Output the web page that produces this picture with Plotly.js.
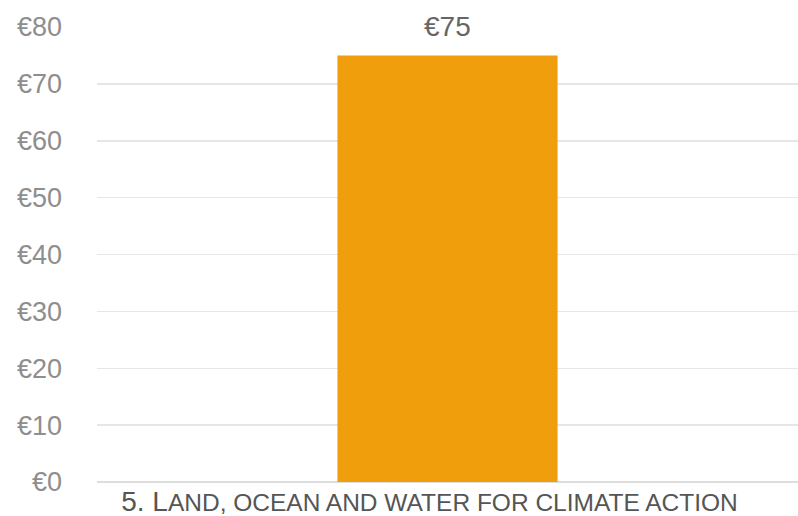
<!DOCTYPE html>
<html>
<head>
<meta charset="utf-8">
<script src="https://cdn.plot.ly/plotly-3.0.1.min.js"></script>
<style>html,body{margin:0;padding:0;background:#fff;}#chart{width:798px;height:516px;}</style>
</head>
<body>
<div id="chart"></div>
<script>
var categories = ["5. LAND, OCEAN AND WATER FOR CLIMATE ACTION"];
var categoryLabels = ["5. L<span style='font-size:24.5px'>AND, OCEAN AND WATER FOR CLIMATE ACTION</span>"];
var values = [75];
var yTickVals = [0, 10, 20, 30, 40, 50, 60, 70, 80];
var yTickText = ["€0", "€10", "€20", "€30", "€40", "€50", "€60", "€70", "€80"];

var trace = {
  type: "bar",
  x: categories,
  y: values,
  marker: {color: "#F09E0C"},
  width: 0.314,
  hoverinfo: "none"
};

var annotations = categories.map(function(c, i){
  return {
    x: c, y: values[i], xref: "x", yref: "y",
    text: "€" + values[i],
    showarrow: false, yanchor: "bottom", yshift: 11,
    font: {family: "Liberation Sans, Arial, sans-serif", size: 28, color: "#666666"}
  };
});

var layout = {
  width: 798, height: 516,
  margin: {l: 97, r: 0, t: 27, b: 34},
  paper_bgcolor: "#ffffff", plot_bgcolor: "#ffffff",
  font: {family: "Liberation Sans, Arial, sans-serif", color: "#888888"},
  showlegend: false,
  xaxis: {
    tickvals: categories, ticktext: categoryLabels,
    tickfont: {size: 28, color: "#555555"},
    showgrid: false, zeroline: false, showline: false, ticks: "", ticklen: 0,
    ticklabelstandoff: 0, ticklabelshift: -18
  },
  yaxis: {
    range: [0, 80], tickvals: yTickVals, ticktext: yTickText,
    tickfont: {size: 27, color: "#8e8e8e"},
    showgrid: true, gridcolor: "#e6e6e6", gridwidth: 1.5,
    zeroline: true, zerolinecolor: "#dddddd", zerolinewidth: 1.5,
    showline: false, ticks: "", ticklabelstandoff: 34
  },
  annotations: annotations
};

Plotly.newPlot("chart", [trace], layout, {displayModeBar: false, staticPlot: true});
</script>
</body>
</html>
